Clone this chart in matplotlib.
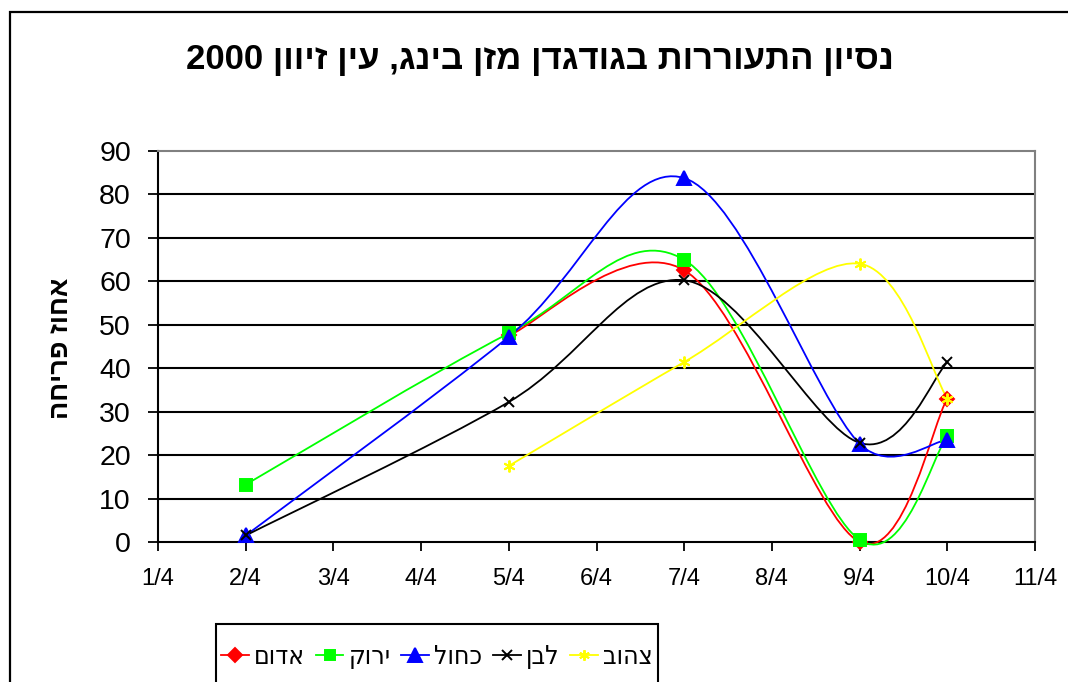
import re

import matplotlib
matplotlib.use("Agg")
import matplotlib.pyplot as plt
from matplotlib.lines import Line2D
from matplotlib.patches import PathPatch, Rectangle
from matplotlib.path import Path

plt.rcParams["font.family"] = ["Liberation Sans", "DejaVu Sans"]

# data: day of April -> percent flowering
days = [1, 2, 3, 4, 5, 6, 7, 8, 9, 10, 11]
tick_labels = [f"{d}/4" for d in days]

red_x = [5, 7, 9, 10]
red_y = [47.5, 62.5, 0.0, 33.0]
green_x = [2, 5, 7, 9, 10]
green_y = [13.2, 48.0, 64.9, 0.5, 24.3]
blue_x = [2, 5, 7, 9, 10]
blue_y = [1.5, 47.2, 83.7, 22.6, 23.5]
black_x = [2, 5, 7, 9, 10]
black_y = [1.5, 32.2, 60.2, 22.8, 41.3]
yellow_x = [5, 7, 9, 10]
yellow_y = [17.5, 41.4, 64.0, 33.0]

names = ["אדום", "ירוק", "כחול", "לבן", "צהוב"]
title = "נסיון התעוררות בגודגדן מזן בינג, עין זיוון 2000"
ylabel = "אחוז פריחה"


def visual(s):
    # matplotlib has no bidi support: flip to visual order, keep numbers
    r = s[::-1]
    return re.sub(r"\d+", lambda m: m.group(0)[::-1], r)


def smooth_path(ax, xs, ys):
    # Excel-like smoothed line: Catmull-Rom Bezier in screen space,
    # control arms capped at half the segment length
    tr = ax.transData
    pts = tr.transform(list(zip(xs, ys)))
    n = len(pts)
    verts = [pts[0]]
    codes = [Path.MOVETO]
    for i in range(n - 1):
        p0 = pts[i - 1] if i > 0 else pts[i]
        p1 = pts[i]
        p2 = pts[i + 1]
        p3 = pts[i + 2] if i + 2 < n else pts[i + 1]
        seg = ((p2 - p1) ** 2).sum() ** 0.5
        a1 = (p2 - p0) / 6
        a2 = (p3 - p1) / 6
        for a in (a1, a2):
            ln = (a ** 2).sum() ** 0.5
            if ln > seg / 2:
                a *= (seg / 2) / ln
        verts += [p1 + a1, p2 - a2, p2]
        codes += [Path.CURVE4] * 3
    return Path(tr.inverted().transform(verts), codes)


series = [
    (red_x, red_y, "#FF0000", "D", 7.5),
    (green_x, green_y, "#00FF00", "s", 8.5),
    (blue_x, blue_y, "#0000FF", "^", 10.5),
    (black_x, black_y, "black", "x", 7.5),
    (yellow_x, yellow_y, "#FFFF00", (6, 2, 0), 8.5),
]

W, H = 1068, 682
fig = plt.figure(figsize=(W / 100, H / 100), dpi=100, facecolor="white")
ax = fig.add_axes([158 / W, 140 / H, 877 / W, 391.3 / H])
ax.set_xlim(days[0], days[-1])
ax.set_ylim(0, 90)

handles = []
for (xs, ys, color, marker, ms), name in zip(series, names):
    ax.add_patch(PathPatch(smooth_path(ax, xs, ys), fill=False,
                           edgecolor=color, lw=1.3, zorder=3, clip_on=False))
    ax.plot(xs, ys, linestyle="none", marker=marker, ms=ms, color=color,
            mec=color, mew=1.4, zorder=4, clip_on=False)
    handles.append(Line2D([], [], color=color, lw=1.3, marker=marker,
                          ms=ms * 0.9, mec=color, mew=1.4))

ax.set_xticks(days)
ax.set_xticklabels(tick_labels)
ax.set_yticks(range(0, 91, 10))
ax.tick_params(axis="y", direction="out", length=7.5, width=1.3, pad=12,
               labelsize=20.5)
ax.tick_params(axis="x", direction="out", length=6.5, width=1.3, pad=12.5,
               labelsize=17)

ax.yaxis.grid(True, color="black", lw=1.5, zorder=1)
ax.set_axisbelow(True)
grid = ax.get_ygridlines()
grid[0].set_visible(False)
grid[-1].set_visible(False)

for side in ["left", "bottom"]:
    ax.spines[side].set_color("black")
    ax.spines[side].set_linewidth(1.5)
for side in ["top", "right"]:
    ax.spines[side].set_color("#808080")
    ax.spines[side].set_linewidth(1.5)

fig.text(540 / W, 1 - 59 / H, visual(title), ha="center", va="center",
         fontsize=25, fontweight="bold")
fig.text(61 / W, 1 - 348 / H, visual(ylabel), ha="center", va="center",
         rotation=90, fontsize=19.5, fontweight="bold")

leg = fig.legend(handles, [visual(n) for n in names], loc="center",
                 bbox_to_anchor=(437 / W, 1 - 657 / H), ncol=5,
                 frameon=False,
                 prop={"family": "DejaVu Sans", "stretch": "condensed",
                       "size": 19},
                 handlelength=1.05, handletextpad=0.2,
                 columnspacing=0.4, borderpad=0.2, borderaxespad=0)

# legend box: top edge visible, bottom runs off the image
fig.canvas.draw()
bb = leg.get_window_extent()
fig.patches.append(Rectangle((bb.x0 / W, -0.05), (bb.x1 - bb.x0) / W,
                             1 - 624 / H + 0.05, transform=fig.transFigure,
                             fill=False, edgecolor="black", lw=1.5,
                             clip_on=False))

# outer chart border (runs off the right and bottom edges)
fig.patches.append(Rectangle((9.5 / W, -0.2), 1.2, 1.2 - 11.5 / H,
                             transform=fig.transFigure, fill=False,
                             edgecolor="black", lw=1.6, clip_on=False))

fig.savefig("out.png", dpi=100)
plt.close(fig)
